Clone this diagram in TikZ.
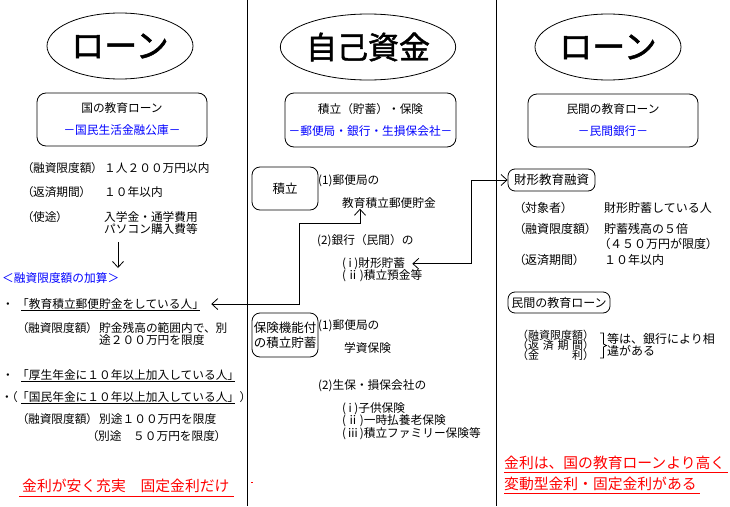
\documentclass[tikz,border=0pt]{standalone}
\usepackage{fontspec}
\setmainfont{Noto Sans CJK JP}
\newfontfamily\bigjp[FakeBold=1.5]{Noto Sans CJK JP}
\newfontfamily\jpp[RawFeature=+palt]{Noto Sans CJK JP}
\usetikzlibrary{arrows.meta,shapes.geometric}
\definecolor{pblue}{RGB}{0,0,255}
\definecolor{pred}{RGB}{255,0,0}
\newcommand{\pl}{{\jpp（}}
\newcommand{\pr}{{\jpp）}}
\tikzset{
  txt/.style={anchor=base west, inner sep=0pt, font=\fontsize{11.7}{14}\selectfont},
  lbl/.style={anchor=base west, inner sep=0pt, font=\jpp\fontsize{11.7}{14}\selectfont},
  txtr/.style={anchor=base west, inner sep=0pt, font=\fontsize{12}{14}\selectfont},
  lblr/.style={anchor=base west, inner sep=0pt, font=\jpp\fontsize{12}{14}\selectfont},
  txts/.style={anchor=base west, inner sep=0pt, font=\fontsize{11}{12}\selectfont},
  tred/.style={anchor=base west, inner sep=0pt, text=pred, font=\fontsize{14.8}{17}\selectfont},
  ell/.style={draw, ellipse, line width=0.8pt, minimum width=146pt, minimum height=66pt, inner sep=0pt, font=\bigjp\fontsize{33}{33}\selectfont},
  bigbox/.style={draw, rounded corners=9pt, line width=0.8pt, minimum width=170pt, minimum height=53pt, align=center, inner sep=0pt, font=\fontsize{11.7}{22}\selectfont},
  smallbox/.style={draw, rounded corners=8pt, line width=0.8pt, inner sep=0pt, align=center, font=\fontsize{12.5}{15}\selectfont},
  sepline/.style={line width=0.9pt},
  uline/.style={line width=0.8pt},
  conn/.style={line width=0.8pt, -{Straight Barb[length=6pt,width=11pt]}},
  dconn/.style={line width=0.8pt, {Straight Barb[length=6pt,width=11pt]}-{Straight Barb[length=6pt,width=11pt]}},
}
\begin{document}
\begin{tikzpicture}[x=1pt,y=-1pt]
\useasboundingbox[fill=white] (0,0) rectangle (730,506);

% column separators
\draw[sepline] (247,0) -- (247,506);
\draw[sepline] (496,0) -- (496,506);

% ellipses
\node[ell] (eL) at (120,46) {ローン};
\node[ell, font=\bigjp\fontsize{31}{31}\selectfont] (eM) at (368,47) {自己資金};
\node[ell] (eR) at (608,47) {ローン};

% header boxes
\node[bigbox] (bL) at (122,119.5) {国の教育ローン\\\textcolor{pblue}{－国民生活金融公庫－}};
\node[bigbox, minimum width=171pt, minimum height=54pt] (bM) at (370.5,120) {積立（貯蓄）・保険\\\textcolor{pblue}{－郵便局・銀行・生損保会社－}};
\node[bigbox] (bR) at (613,120.5) {民間の教育ローン\\\textcolor{pblue}{－民間銀行－}};

% ---------- left column ----------
\node[lbl] (t1) at (27,172.5) {（融資限度額）};
\node[txt] (v1) at (104,172.5) {１人２００万円以内};
\node[lbl] (t2) at (27,196.5) {（返済期間）};
\node[txt] (v2) at (104,196.5) {１０年以内};
\node[lbl] (t3) at (27,221.5) {（使途）};
\node[txt] (v3) at (104,221.5) {入学金・通学費用};
\node[txt] (v3b) at (104,233) {パソコン購入費等};
\node[txt, text=pblue] (kasan) at (2,282.5) {＜融資限度額の加算＞};
\coordinate (da) at (118,242);
\draw[conn] (da) -- (118,268);

\node[txt] (bu1) at (2,308.5) {・};
\node[txt] (b1) at (17,308.5) {「教育積立郵便貯金をしている人」};
\draw[uline] ([xshift=4pt,yshift=-2pt]b1.base west) -- ([xshift=-4pt,yshift=-2pt]b1.base east);

\node[lbl] (l1) at (22,332.5) {（融資限度額）};
\node[txt] (l1v) at (99,332.5) {貯金残高の範囲内で、別};
\node[txt] (l1w) at (99,344.5) {途２００万円を限度};

\node[txt] (bu2) at (2,379.5) {・};
\node[txt] (b2) at (17,379.5) {「厚生年金に１０年以上加入している人」};
\draw[uline] ([xshift=4pt,yshift=-2pt]b2.base west) -- ([xshift=-4pt,yshift=-2pt]b2.base east);

\node[txt] (bu3) at (1,401.5) {・};
\node[txt] (p3) at (6,401.5) {（};
\node[txt] (b3) at (17,401.5) {「国民年金に１０年以上加入している人」};
\node[txt] (q3) at (b3.base east) {）};
\draw[uline] ([xshift=4pt,yshift=-2pt]b3.base west) -- ([xshift=-4pt,yshift=-2pt]b3.base east);

\node[lbl] (l2) at (22,423.5) {（融資限度額）};
\node[txt] (l2v) at (99,423.5) {別途１００万円を限度};
\node[txt] (l3) at (92,440.5) {\pl 別途　５０万円を限度\pr};

\node[tred] (redL) at (22,491.5) {金利が安く充実　固定金利だけ};
\draw[uline, pred] ([xshift=-3pt,yshift=-4.5pt]redL.base west) -- ([xshift=4pt,yshift=-4.5pt]redL.base east);

% ---------- middle column ----------
\node[smallbox, minimum width=66pt, minimum height=43pt] (sT) at (285,188.5) {積立};
\node[txt] (m1) at (318,184.5) {(1)郵便局の};
\node[txt] (m2) at (342,207.5) {教育積立郵便貯金};
\node[txt] (m3) at (317,244.5) {(2)銀行（民間）の};
\node[txt] (m4) at (342,267.5) {(\hspace{2.5pt}i\hspace{2.5pt})財形貯蓄};
\node[txt] (m5) at (342,279.5) {(\hspace{1pt}ⅱ\hspace{1pt})積立預金等};

\node[smallbox, minimum width=66pt, minimum height=44pt] (sH) at (285,335) {保険機能付\\の積立貯蓄};
\node[txt] (m6) at (318,329.5) {(1)郵便局の};
\node[txt] (m7) at (344,352.5) {学資保険};
\node[txt] (m8) at (318,389.5) {(2)生保・損保会社の};
\node[txt] (m9) at (342,412.5) {(\hspace{2.5pt}i\hspace{2.5pt})子供保険};
\node[txt] (m10) at (342,424.5) {(\hspace{1pt}ⅱ\hspace{1pt})一時払養老保険};
\node[txt] (m11) at (342,437.5) {(\hspace{1pt}ⅲ\hspace{1pt})積立ファミリー保険等};
\fill[pred] (251,481.5) rectangle (252.5,483);

% ---------- right column ----------
\node[smallbox, minimum width=87pt, minimum height=22pt, rounded corners=7pt] (sZ) at (551.5,180) {財形教育融資};
\node[lblr] (r1) at (519,212.5) {（対象者）};
\node[txtr] (r1v) at (604,212.5) {財形貯蓄している人};
\node[lblr] (r2) at (519,233.5) {（融資限度額）};
\node[txtr] (r2v) at (604,233.5) {貯蓄残高の５倍};
\node[txtr] (r2w) at (604,248.5) {\pl ４５０万円が限度\pr};
\node[lblr] (r3) at (519,264.5) {（返済期間）};
\node[txtr] (r3v) at (604,264.5) {１０年以内};

\node[smallbox, minimum width=102pt, minimum height=21pt, rounded corners=7pt, font=\fontsize{12}{14}\selectfont] (sP) at (559,302.5) {民間の教育ローン};
\node[txts] (r4) at (517,339) {（融資限度額）};
\node[txts] (r5) at (517,349) {（\makebox[5em][s]{返\hfill 済\hfill 期\hfill 間}）};
\node[txts] (r6) at (517,359) {（\makebox[5em][s]{金\hfill 利}）};
\draw[uline] (600,333) -- (603.5,333) -- (603.5,344) -- (606.5,345.5) -- (603.5,347) -- (603.5,358) -- (600,358);
\node[txtr] (r7) at (607,343.5) {等は、銀行により相};
\node[txtr] (r8) at (607,355.5) {違がある};

\node[tred] (redR1) at (504,468.5) {金利は、国の教育ローンより高く};
\draw[uline, pred] ([xshift=0pt,yshift=-3.5pt]redR1.base west) -- ([xshift=3pt,yshift=-3.5pt]redR1.base east);
\node[tred] (redR2) at (504,489.5) {変動型金利・固定金利がある};
\draw[uline, pred] ([xshift=0pt,yshift=-3.5pt]redR2.base west) -- ([xshift=3pt,yshift=-3.5pt]redR2.base east);

% ---------- connectors ----------
\coordinate (Lc) at (299,223);
\draw[dconn] ([xshift=7pt]b1.east) -| (Lc) -| ([xshift=18pt]m2.south west);
\coordinate (Rc) at (471,180);
\draw[dconn] ([xshift=7pt]m4.east) -| (Rc) -- (sZ.west);
\end{tikzpicture}
\end{document}
